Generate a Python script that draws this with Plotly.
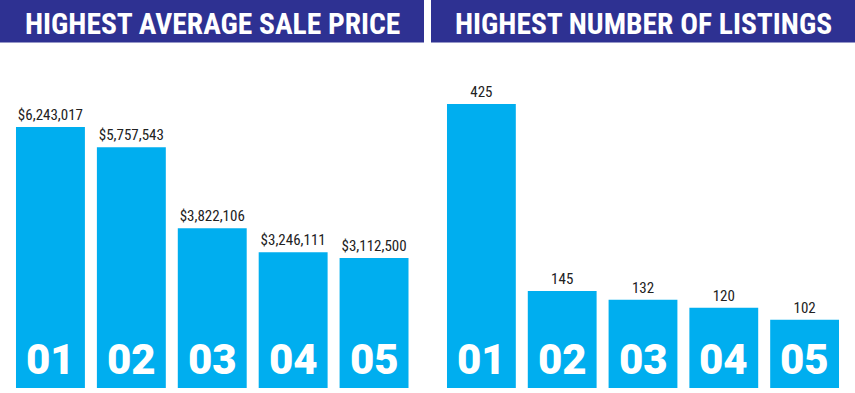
import plotly.graph_objects as go

ranks = ["01", "02", "03", "04", "05"]
sale_price = [6243017, 5757543, 3822106, 3246111, 3112500]
listings = [425, 145, 132, 120, 102]
title_left = "HIGHEST AVERAGE SALE PRICE"
title_right = "HIGHEST NUMBER OF LISTINGS"

W, H = 855, 393
BLUE = "#00AEEF"
NAVY = "#2E3192"
label_font = "Roboto Condensed, Liberation Sans Narrow, Roboto, sans-serif"
head_font = "Roboto Condensed, Liberation Sans Narrow, Roboto, sans-serif"
num_font = "Roboto, Arial Black, sans-serif"

fig = go.Figure()
fig.add_trace(go.Bar(
    x=ranks, y=sale_price, xaxis="x", yaxis="y",
    marker=dict(color=BLUE, line=dict(width=0)),
    text=[f"${v:,}" for v in sale_price], textposition="outside",
    textfont=dict(family=label_font, size=15, color="#222"),
    cliponaxis=False, hoverinfo="skip",
))
fig.add_trace(go.Bar(
    x=ranks, y=listings, xaxis="x2", yaxis="y2",
    marker=dict(color=BLUE, line=dict(width=0)),
    text=[str(v) for v in listings], textposition="outside",
    textfont=dict(family=label_font, size=15, color="#222"),
    cliponaxis=False, hoverinfo="skip",
))

top_px, bot_px = 50, 388
ydom = [(H - bot_px) / H, (H - top_px) / H]
plot_h = bot_px - top_px
left_max = plot_h / (261 / sale_price[0])
right_max = plot_h / (284 / listings[0])

axis_off = dict(showgrid=False, zeroline=False, showticklabels=False, showline=False, ticks="")
fig.update_layout(
    width=W, height=H, margin=dict(l=0, r=0, t=0, b=0),
    paper_bgcolor="white", plot_bgcolor="white",
    showlegend=False, bargap=12 / 81,
    xaxis=dict(domain=[10 / W, 414.5 / W], type="category", range=[-0.5, 4.5], **axis_off),
    yaxis=dict(domain=ydom, range=[0, left_max], **axis_off),
    xaxis2=dict(domain=[441 / W, 845 / W], type="category", range=[-0.5, 4.5], anchor="y2", **axis_off),
    yaxis2=dict(domain=ydom, range=[0, right_max], anchor="x2", **axis_off),
)

# header bars
hb = 1 - 42.5 / H
fig.add_shape(type="rect", xref="paper", yref="paper", x0=0, x1=424 / W, y0=hb, y1=1,
              fillcolor=NAVY, line=dict(width=0), layer="below")
fig.add_shape(type="rect", xref="paper", yref="paper", x0=431 / W, x1=1, y0=hb, y1=1,
              fillcolor=NAVY, line=dict(width=0), layer="below")
fig.add_annotation(text=title_left, xref="paper", yref="paper", x=212 / W, y=1 - 23.5 / H,
                   showarrow=False, font=dict(family=head_font, size=29.5, color="white", weight="bold"),
                   xanchor="center", yanchor="middle")
fig.add_annotation(text=title_right, xref="paper", yref="paper", x=643 / W, y=1 - 23.5 / H,
                   showarrow=False, font=dict(family=head_font, size=29.5, color="white", weight="bold"),
                   xanchor="center", yanchor="middle")

# rank labels inside bars
for xr, yr in (("x", "y"), ("x2", "y2")):
    for i, r in enumerate(ranks):
        fig.add_annotation(text=r, xref=xr, yref=yr, x=i, y=0, yanchor="bottom",
                           yshift=2, showarrow=False,
                           font=dict(family=num_font, size=42, color="white", weight=900))

fig.write_html("out.html", config={"displayModeBar": False},
               post_script="document.body.style.margin='0';document.body.style.padding='0';")
